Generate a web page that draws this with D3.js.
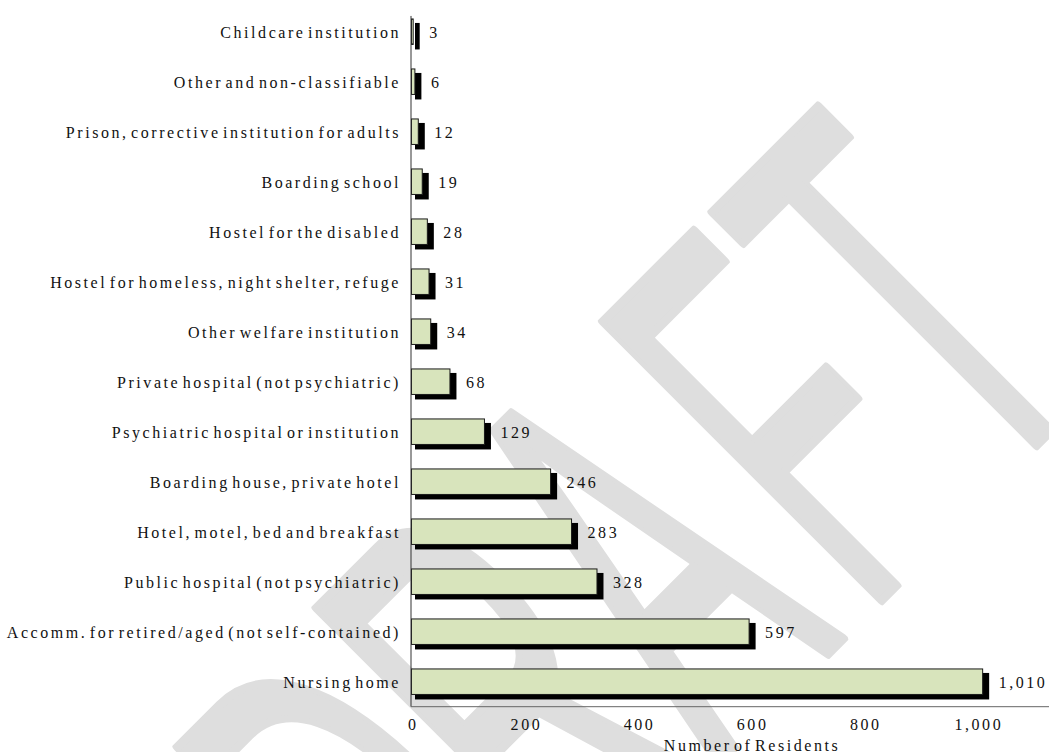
<!DOCTYPE html>
<html>
<head>
<meta charset="utf-8">
<script src="https://cdn.jsdelivr.net/npm/d3@7"></script>
<style>
  body { margin: 0; background: #ffffff; }
  svg { display: block; }
</style>
</head>
<body>
<svg id="chart" width="1049" height="752"></svg>
<script>
// Residents by type of non-private dwelling
const categories = [
  "Childcare institution",
  "Other and non-classifiable",
  "Prison, corrective institution for adults",
  "Boarding school",
  "Hostel for the disabled",
  "Hostel for homeless, night shelter, refuge",
  "Other welfare institution",
  "Private hospital (not psychiatric)",
  "Psychiatric hospital or institution",
  "Boarding house, private hotel",
  "Hotel, motel, bed and breakfast",
  "Public hospital (not psychiatric)",
  "Accomm. for retired/aged (not self-contained)",
  "Nursing home"
];
const residents = [3, 6, 12, 19, 28, 31, 34, 68, 129, 246, 283, 328, 597, 1010];
const xTicks = [0, 200, 400, 600, 800, 1000];
const axisTitle = "Number of Residents";
const watermarkText = "DRAFT";

const W = 1049, H = 752;
const svg = d3.select("#chart");
const fmt = d3.format(",");

const labelFont = "'Liberation Serif', 'Times New Roman', serif";
const textStyle = sel => sel
  .attr("font-family", labelFont)
  .attr("font-size", 16)
  .attr("letter-spacing", "2.55px")
  .attr("word-spacing", "-4px")
  .attr("fill", "#111");

// Scales
const x = d3.scaleLinear().domain([0, 1000]).range([411.5, 977]);
const y = d3.scaleBand()
  .domain(categories)
  .range([6.7, 706.7])
  .paddingInner(0.49)
  .paddingOuter(0.245);

// Watermark behind everything: condensed, rotated, rounded letters
svg.append("text")
  .attr("transform", "translate(458,1024) rotate(-45) scale(0.475,1)")
  .attr("font-family", "'Liberation Sans', Arial, sans-serif")
  .attr("font-size", 573)
  .attr("dx", "-57 0 0 57 10")
  .attr("fill", "#dedede")
  .attr("stroke", "#dedede")
  .attr("stroke-width", 7)
  .attr("stroke-linejoin", "round")
  .attr("vector-effect", "non-scaling-stroke")
  .text(watermarkText);

const plot = svg.append("g");

// Drop shadows
plot.selectAll("rect.shadow")
  .data(residents)
  .join("rect")
  .attr("class", "shadow")
  .attr("x", x(0) + 3.5)
  .attr("y", (d, i) => y(categories[i]) + 4)
  .attr("width", d => x(d) - x(0) + 3)
  .attr("height", y.bandwidth() + 1)
  .attr("fill", "#000");

// Bars
plot.selectAll("rect.bar")
  .data(residents)
  .join("rect")
  .attr("class", "bar")
  .attr("x", x(0))
  .attr("y", (d, i) => y(categories[i]))
  .attr("width", d => x(d) - x(0))
  .attr("height", y.bandwidth())
  .attr("fill", "#d8e4bc")
  .attr("stroke", "#1a1a1a")
  .attr("stroke-width", 1);

// Value labels
plot.selectAll("text.value")
  .data(residents)
  .join("text")
  .attr("class", "value")
  .attr("x", d => x(d) + 16)
  .attr("y", (d, i) => y(categories[i]) + y.bandwidth() / 2 + 6)
  .call(textStyle)
  .text(d => fmt(d));

// Category labels
plot.selectAll("text.cat")
  .data(categories)
  .join("text")
  .attr("class", "cat")
  .attr("x", 401)
  .attr("y", d => y(d) + y.bandwidth() / 2 + 6)
  .attr("text-anchor", "end")
  .call(textStyle)
  .text(d => d);

// Axis lines
const axisY = 706.7;
svg.append("line")
  .attr("x1", 411).attr("x2", 411)
  .attr("y1", y(categories[0]) - 3).attr("y2", axisY)
  .attr("stroke", "#333").attr("stroke-width", 1);
svg.append("line")
  .attr("x1", 411).attr("x2", W)
  .attr("y1", axisY).attr("y2", axisY)
  .attr("stroke", "#666").attr("stroke-width", 1);

// X axis tick labels
const xAxis = d3.axisBottom(x).tickValues(xTicks).tickSize(0).tickPadding(0).tickFormat(fmt);
const gx = svg.append("g").attr("transform", `translate(0,${axisY})`).call(xAxis);
gx.select(".domain").remove();
gx.selectAll("text")
  .attr("dy", null)
  .attr("y", 23)
  .call(textStyle)
  .attr("dx", "1.3px");

// Axis title
svg.append("text")
  .attr("x", 752)
  .attr("y", 751)
  .attr("text-anchor", "middle")
  .call(textStyle)
  .text(axisTitle);
</script>
</body>
</html>
